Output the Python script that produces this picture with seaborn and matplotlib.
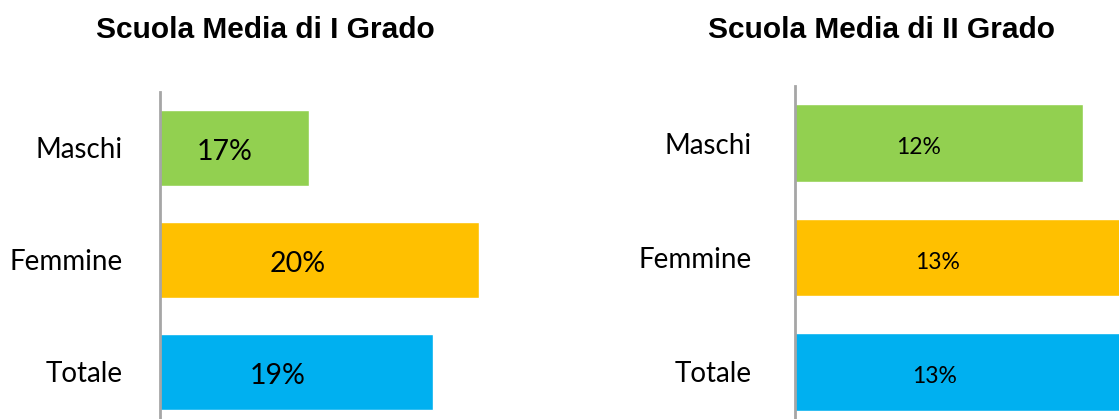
import matplotlib
matplotlib.use("Agg")
import matplotlib.pyplot as plt
import seaborn as sns
import pandas as pd

# data (percent)
categories = ["Maschi", "Femmine", "Totale"]
primo_grado = [16.9, 20.2, 19.3]
secondo_grado = [12.1, 13.0, 12.9]
colors = ["#92D050", "#FFC000", "#00B0F0"]

titles = ["Scuola Media di I Grado", "Scuola Media di II Grado"]

W, H = 1119, 419
sns.set_style("white")
plt.rcParams["font.family"] = ["Lato", "DejaVu Sans"]
plt.rcParams["text.color"] = "black"
plt.rcParams["ytick.color"] = "black"

fig = plt.figure(figsize=(W / 100, H / 100), dpi=100)

def px_axes(left, top, right, bottom):
    return fig.add_axes([left / W, 1 - bottom / H, (right - left) / W, (bottom - top) / H])

def draw_panel(ax, values, xmin, xmax, label_size, pad):
    df = pd.DataFrame({"Categoria": categories, "Valore": values})
    sns.barplot(data=df, x="Valore", y="Categoria", hue="Categoria", palette=colors,
                orient="h", width=0.68, legend=False, ax=ax, saturation=1)
    ax.set_xlim(xmin, xmax)
    ax.set_ylim(2.5, -0.5)
    ax.set_xlabel("")
    ax.set_ylabel("")
    ax.set_xticks([])
    for s in ["top", "right", "bottom"]:
        ax.spines[s].set_visible(False)
    ax.spines["left"].set_color("#a6a6a6")
    ax.spines["left"].set_linewidth(2)
    ax.tick_params(axis="y", length=0, pad=pad, labelsize=20, labelcolor="black")
    for i, v in enumerate(values):
        ax.text(xmin + 0.43 * (v - xmin), i + 0.04, f"{round(v):.0f}%", ha="center", va="center",
                fontsize=label_size, color="black")

ax1 = px_axes(160, 92, 560, 428)
draw_panel(ax1, primo_grado, 14, 14 + 400 / 51.5, 20.5, 27)

ax2 = px_axes(795, 86, 1119, 429)
draw_panel(ax2, secondo_grado, 6, 6 + 324 / 47.2, 16.5, 31)

fig.text(265 / W, 1 - 30 / H, titles[0], ha="center", va="center", color="black",
         fontsize=21.5, fontweight="bold", family="Liberation Sans")
fig.text(882 / W, 1 - 30 / H, titles[1], ha="center", va="center", color="black",
         fontsize=21.5, fontweight="bold", family="Liberation Sans")

fig.savefig("out.png", dpi=100)
